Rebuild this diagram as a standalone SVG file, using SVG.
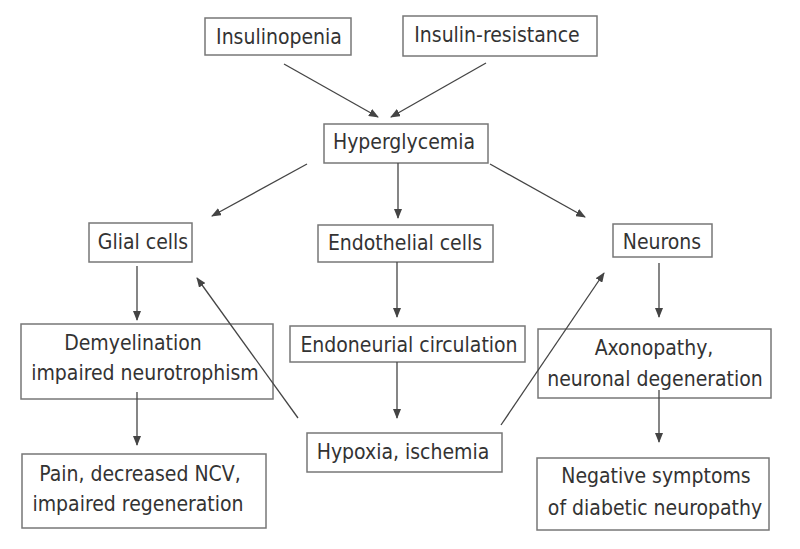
<svg xmlns="http://www.w3.org/2000/svg" width="800" height="549" viewBox="0 0 800 549">
<style>
.box{fill:none;stroke:#777;stroke-width:1.5}
.t{font-family:"DejaVu Sans Condensed","DejaVu Sans",Tahoma,sans-serif;font-stretch:condensed;font-size:21px;fill:#333;text-anchor:middle}
.c{stroke:#444;stroke-width:1.3;fill:none;marker-end:url(#ah)}
</style>
<defs>
<marker id="ah" markerUnits="userSpaceOnUse" markerWidth="10" markerHeight="8" refX="9" refY="4" orient="auto">
<path d="M0,0 L10,4 L0,8 Z" fill="#444"/>
</marker>
</defs>
<rect width="800" height="549" fill="#fff"/>
<g id="insulinopenia"><rect class="box" x="205" y="18" width="146" height="37"/><text class="t" x="279" y="44">Insulinopenia</text></g>
<g id="insulin-resistance"><rect class="box" x="403" y="16" width="194" height="40"/><text class="t" x="497" y="42">Insulin-resistance</text></g>
<g id="hyperglycemia"><rect class="box" x="324" y="124" width="164" height="39"/><text class="t" x="404" y="149">Hyperglycemia</text></g>
<g id="glial"><rect class="box" x="89" y="223" width="103" height="39"/><text class="t" x="143" y="249">Glial cells</text></g>
<g id="endothelial"><rect class="box" x="318" y="225" width="175" height="37"/><text class="t" x="405" y="250">Endothelial cells</text></g>
<g id="neurons"><rect class="box" x="613" y="224" width="99" height="33"/><text class="t" x="662" y="249">Neurons</text></g>
<g id="demyelination"><rect class="box" x="21" y="324" width="252" height="75"/><text class="t" x="133" y="350">Demyelination</text><text class="t" x="145" y="380">impaired neurotrophism</text></g>
<g id="endoneurial"><rect class="box" x="290" y="326" width="235" height="36"/><text class="t" x="409" y="352">Endoneurial circulation</text></g>
<g id="axonopathy"><rect class="box" x="538" y="329" width="233" height="69"/><text class="t" x="654" y="355">Axonopathy,</text><text class="t" x="655" y="386">neuronal degeneration</text></g>
<g id="hypoxia"><rect class="box" x="307" y="433" width="195" height="39"/><text class="t" x="403" y="459">Hypoxia, ischemia</text></g>
<g id="pain"><rect class="box" x="22" y="454" width="244" height="74"/><text class="t" x="140" y="481">Pain, decreased NCV,</text><text class="t" x="138" y="511">impaired regeneration</text></g>
<g id="negative"><rect class="box" x="537" y="458" width="232" height="72"/><text class="t" x="656" y="483">Negative symptoms</text><text class="t" x="655" y="515">of diabetic neuropathy</text></g>
<g id="connectors">
<line class="c" x1="284" y1="64" x2="378" y2="117"/>
<line class="c" x1="486" y1="63" x2="391" y2="117"/>
<line class="c" x1="307" y1="164" x2="212" y2="216"/>
<line class="c" x1="398" y1="163" x2="398" y2="218"/>
<line class="c" x1="490" y1="164" x2="585" y2="217"/>
<line class="c" x1="137" y1="266" x2="137" y2="320"/>
<line class="c" x1="397" y1="262" x2="397" y2="317"/>
<line class="c" x1="659" y1="263" x2="659" y2="317"/>
<line class="c" x1="397" y1="362" x2="397" y2="418"/>
<line class="c" x1="298" y1="418" x2="197" y2="278"/>
<line class="c" x1="501" y1="425" x2="604" y2="273"/>
<line class="c" x1="137" y1="392" x2="137" y2="445"/>
<line class="c" x1="659" y1="390" x2="659" y2="442"/>
</g>
</svg>
